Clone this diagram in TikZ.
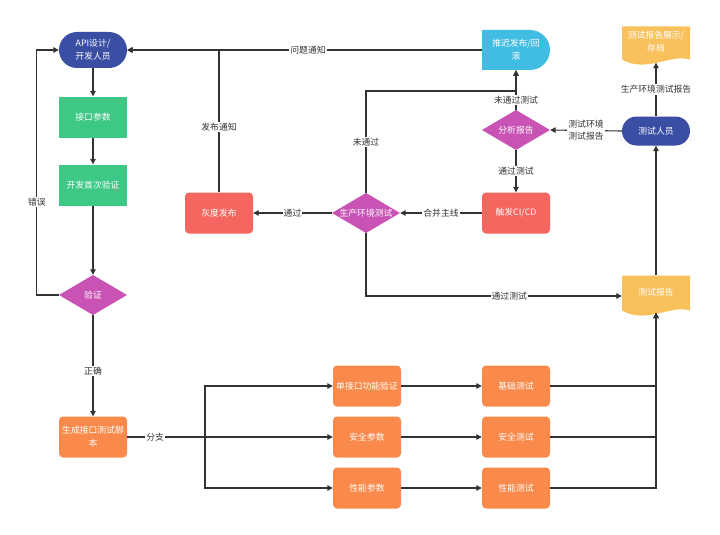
\documentclass[tikz,border=0pt]{standalone}
\usepackage{fontspec}
\setmainfont{Noto Sans CJK SC}
\usetikzlibrary{arrows.meta,calc}
\definecolor{cblue}{HTML}{3A4EA4}
\definecolor{cgreen}{HTML}{3DC985}
\definecolor{cmag}{HTML}{C853B4}
\definecolor{cred}{HTML}{F4665F}
\definecolor{corange}{HTML}{F98A4B}
\definecolor{clblue}{HTML}{41BDE3}
\definecolor{cyellow}{HTML}{F8C15C}
\definecolor{cline}{HTML}{333333}
\begin{document}
\begin{tikzpicture}[x=1pt,y=-1pt,
  nd/.style={rectangle, minimum width=68pt, minimum height=41pt, inner sep=1pt, text=white, align=center, font=\fontsize{8.8}{13}\selectfont},
  greenbox/.style={nd, fill=cgreen},
  redbox/.style={nd, fill=cred, rounded corners=4pt},
  orbox/.style={nd, fill=corange, rounded corners=4pt},
  stadium/.style={nd, fill=cblue, minimum height=#1, rounded corners=#1/2},
  dia/.style={nd, minimum height=40pt, path picture={\fill[cmag] (path picture bounding box.north) -- (path picture bounding box.east) -- (path picture bounding box.south) -- (path picture bounding box.west) -- cycle;}},
  docu/.style={nd, minimum height=#1, path picture={\fill[cyellow] (path picture bounding box.north west) -- (path picture bounding box.north east) -- ($(path picture bounding box.south east)+(0,-6)$) .. controls ($(path picture bounding box.south east)+(-20,-12)$) and ($(path picture bounding box.south west)+(25,8)$) .. ($(path picture bounding box.south west)+(0,-6)$) -- cycle;}},
  delay/.style={nd, minimum height=40pt, path picture={\fill[clblue] (path picture bounding box.north west) -- ($(path picture bounding box.north east)+(-20,0)$) .. controls ($(path picture bounding box.north east)+(-9,0)$) and ($(path picture bounding box.east)+(0,-11)$) .. (path picture bounding box.east) .. controls ($(path picture bounding box.east)+(0,11)$) and ($(path picture bounding box.south east)+(-9,0)$) .. ($(path picture bounding box.south east)+(-20,0)$) -- (path picture bounding box.south west) -- cycle;}},
  arr/.style={draw=cline, line width=1.1pt, -{Triangle[length=5.5pt,width=5.5pt]}},
  ln/.style={draw=cline, line width=1.1pt},
  lbl/.style={fill=white, inner sep=1pt, text=cline, align=center, font=\fontsize{8.8}{12}\selectfont}
]
\useasboundingbox[fill=white] (0,0) rectangle (720,535);

% nodes
\node[stadium=36pt] (api) at (93,50) {API设计/\\开发人员};
\node[greenbox] (jk) at (93,117) {接口参数};
\node[greenbox] (kf) at (93,185) {开发首次验证};
\node[dia] (yz) at (93,295) {验证};
\node[orbox] (sc) at (93,437) {生成接口测试脚\\本};
\node[redbox] (hd) at (219,213) {灰度发布};
\node[dia] (sca) at (366,213) {生产环境测试};
\node[redbox] (cf) at (516,213) {触发CI/CD};
\node[dia] (fx) at (516,130) {分析报告};
\node[delay] (tc) at (516,50) {推迟发布/回\\滚};
\node[stadium=29pt] (tr) at (656,131) {测试人员};
\node[docu=39pt] (bgz) at (656,46) {测试报告展示/\\存档\\[-3pt]};
\node[docu=41pt] (bg) at (656,296) {测试报告\\[-4pt]};
\node[orbox] (dj) at (367,386) {单接口功能验证};
\node[orbox] (aq) at (367,437) {安全参数};
\node[orbox] (xn) at (367,488) {性能参数};
\node[orbox] (jc) at (516,386) {基础测试};
\node[orbox] (aqc) at (516,437) {安全测试};
\node[orbox] (xnc) at (516,488) {性能测试};
\coordinate (br) at (205,437);
\coordinate (bgin) at ($(bg.south)+(0,-4)$);
\coordinate (bgzin) at ($(bgz.south)+(0,-3)$);

% connectors
\draw[arr] (api) -- (jk);
\draw[arr] (jk) -- (kf);
\draw[arr] (kf) -- (yz);
\draw[arr] (yz.west) -- ++(-22,0) |- (api.west) node[lbl,pos=0.19]{错误};
\draw[arr] (yz.south) -- (sc.north) node[lbl,pos=0.55]{正确};
\draw[ln] (sc.east) -- (br) node[lbl,pos=0.36]{分支};
\draw[arr] (br) |- (dj.west);
\draw[arr] (br) -- (aq.west);
\draw[arr] (br) |- (xn.west);
\draw[arr] (dj) -- (jc);
\draw[arr] (aq) -- (aqc);
\draw[arr] (xn) -- (xnc);
\draw[arr] (jc.east) -| (bgin);
\draw[arr] (aqc.east) -| (bgin);
\draw[arr] (xnc.east) -| (bgin);
\draw[arr] (bg.north) -- (tr.south);
\draw[arr] (tr.north) -- (bgzin) node[lbl,midway]{生产环境测试报告};
\draw[arr] (tr.west) -- (fx.east) node[lbl,midway]{测试环境\\测试报告};
\draw[arr] (fx.south) -- (cf.north) node[lbl,midway]{通过测试};
\draw[arr] (fx.north) -- (tc.south) node[lbl,pos=0.25]{未通过测试};
\draw[arr] (cf.west) -- (sca.east) node[lbl,midway]{合并主线};
\draw[arr] (sca.west) -- (hd.east) node[lbl,midway]{通过};
\draw[arr] (sca.north) -- node[lbl]{未通过} (366,91) -| (tc.south);
\draw[arr] (sca.south) |- (bg.west) node[lbl,pos=0.78]{通过测试};
\draw[arr] (tc.west) -- (api.east) node[lbl,pos=0.49]{问题通知};
\draw[arr] (hd.north) |- (api.east) node[lbl,pos=0.23]{发布通知};
\end{tikzpicture}
\end{document}
